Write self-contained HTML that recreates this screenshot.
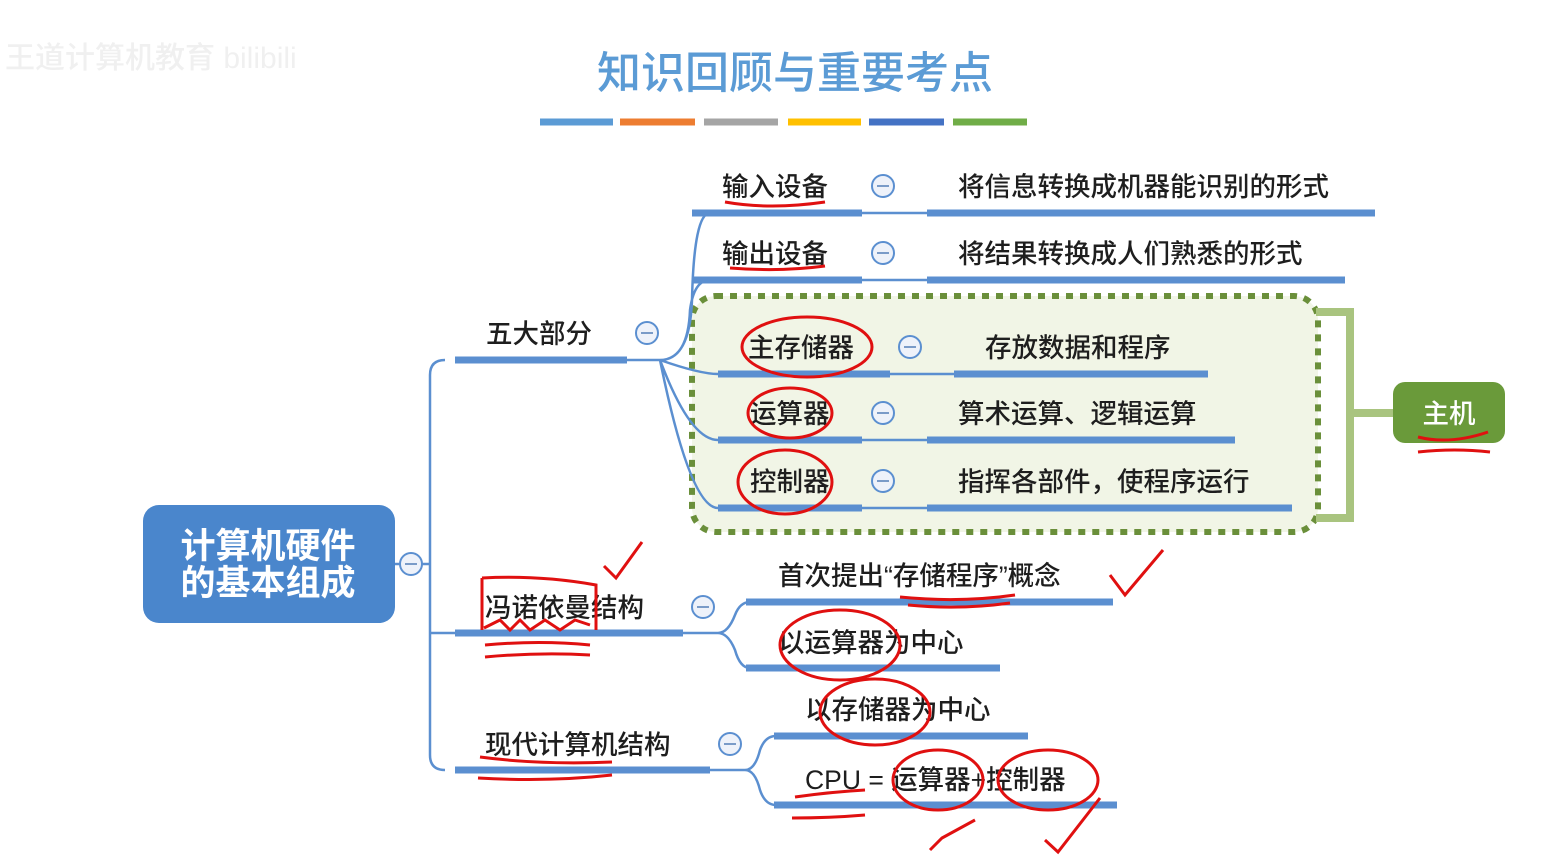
<!DOCTYPE html>
<html><head><meta charset="utf-8"><style>
body{margin:0;background:#fff;}
svg{display:block;}
text{font-family:"Liberation Sans","Noto Sans CJK SC",sans-serif;fill:#1e1e1e;font-size:26.5px;font-weight:500;}
</style></head><body>
<svg width="1545" height="856" viewBox="0 0 1545 856">
<text x="5" y="68" style="fill:#f0f0f0;font-size:30px">王道计算机教育 bilibili</text>
<text x="795" y="88" text-anchor="middle" style="fill:#5b9bd5;font-size:44px">知识回顾与重要考点</text>
<g stroke-width="7">
<line x1="540" y1="122" x2="613" y2="122" stroke="#5b9bd5"/>
<line x1="620" y1="122" x2="695" y2="122" stroke="#ed7d31"/>
<line x1="704" y1="122" x2="778" y2="122" stroke="#a5a5a5"/>
<line x1="788" y1="122" x2="861" y2="122" stroke="#ffc000"/>
<line x1="869" y1="122" x2="944" y2="122" stroke="#4472c4"/>
<line x1="953" y1="122" x2="1027" y2="122" stroke="#70ad47"/>
</g>
<rect x="692" y="296" width="626" height="236" rx="24" fill="#f1f5e6" stroke="#6a8f3a" stroke-width="6" stroke-dasharray="7,7"/>
<path d="M1316 312 H1350 V518 H1316 M1350 413 H1395" fill="none" stroke="#a9c47f" stroke-width="8"/>
<rect x="1393" y="382" width="112" height="61" rx="12" fill="#6a9a3a"/>
<text x="1449" y="423" text-anchor="middle" style="fill:#fff">主机</text>
<rect x="143" y="505" width="252" height="118" rx="16" fill="#4a86cc"/>
<text x="268" y="558" text-anchor="middle" style="fill:#fff;font-size:35px;font-weight:bold">计算机硬件</text>
<text x="268" y="595" text-anchor="middle" style="fill:#fff;font-size:35px;font-weight:bold">的基本组成</text>
<g fill="none" stroke="#5b8fd0" stroke-width="2.5">
<path d="M395 564 H430 M445 360 Q430 360 430 375 V755 Q430 770 445 770 M430 633 H455"/>
<path d="M627 360 H660 M660 360 Q690 360 692 300 Q694 213 710 213 M660 360 Q688 360 690 310 Q694 280 710 280 M660 360 Q700 374 718 374 M660 360 Q690 440 718 440 M660 360 Q690 508 718 508"/>
<path d="M862 213 H927 M862 280 H927 M890 374 H954 M862 440 H927 M862 508 H927"/>
<path d="M683 633 H718 Q728 633 735 615 Q740 602 750 602 M718 633 Q728 633 735 650 Q740 668 750 668"/>
<path d="M710 770 H745 Q755 770 760 750 Q765 736 776 736 M745 770 Q755 770 760 790 Q765 805 776 805"/>
</g>
<g stroke="#5b8fd0" stroke-width="7">
<line x1="455" y1="360" x2="627" y2="360"/><line x1="455" y1="633" x2="683" y2="633"/><line x1="455" y1="770" x2="710" y2="770"/>
<line x1="692" y1="213" x2="862" y2="213"/><line x1="927" y1="213" x2="1375" y2="213"/>
<line x1="692" y1="280" x2="862" y2="280"/><line x1="927" y1="280" x2="1345" y2="280"/>
<line x1="718" y1="374" x2="890" y2="374"/><line x1="954" y1="374" x2="1208" y2="374"/>
<line x1="718" y1="440" x2="862" y2="440"/><line x1="927" y1="440" x2="1235" y2="440"/>
<line x1="718" y1="508" x2="862" y2="508"/><line x1="927" y1="508" x2="1292" y2="508"/>
<line x1="746" y1="602" x2="1113" y2="602"/><line x1="746" y1="668" x2="1000" y2="668"/>
<line x1="774" y1="736" x2="1028" y2="736"/><line x1="774" y1="805" x2="1117" y2="805"/>
</g>
<g fill="#eef2fa" stroke="#5b8fd0" stroke-width="2">
<circle cx="411" cy="564" r="11"/><circle cx="647" cy="333" r="11"/><circle cx="883" cy="186" r="11"/><circle cx="883" cy="253" r="11"/>
<circle cx="910" cy="347" r="11"/><circle cx="883" cy="413" r="11"/><circle cx="883" cy="481" r="11"/>
<circle cx="703" cy="607" r="11"/><circle cx="730" cy="744" r="11"/>
</g>
<g stroke="#7a9bc8" stroke-width="2"><line x1="877" y1="186" x2="889" y2="186"/><line x1="877" y1="253" x2="889" y2="253"/><line x1="904" y1="347" x2="916" y2="347"/><line x1="877" y1="413" x2="889" y2="413"/><line x1="877" y1="481" x2="889" y2="481"/><line x1="641" y1="333" x2="653" y2="333"/><line x1="405" y1="564" x2="417" y2="564"/><line x1="697" y1="607" x2="709" y2="607"/><line x1="724" y1="744" x2="736" y2="744"/></g>
<text x="486" y="343">五大部分</text>
<text x="722" y="196">输入设备</text><text x="958" y="196">将信息转换成机器能识别的形式</text>
<text x="722" y="263">输出设备</text><text x="958" y="263">将结果转换成人们熟悉的形式</text>
<text x="748" y="357">主存储器</text><text x="985" y="357">存放数据和程序</text>
<text x="750" y="423">运算器</text><text x="958" y="423">算术运算、逻辑运算</text>
<text x="750" y="491">控制器</text><text x="958" y="491">指挥各部件，使程序运行</text>
<text x="485" y="617">冯诺依曼结构</text>
<text x="778" y="585">首次提出“存储程序”概念</text>
<text x="778" y="652">以运算器为中心</text>
<text x="485" y="754">现代计算机结构</text>
<text x="805" y="719">以存储器为中心</text>
<text x="805" y="789">CPU = 运算器+控制器</text>
<g fill="none" stroke="#e01010" stroke-width="3">
<path d="M725 202 Q770 210 825 202"/><path d="M730 268 Q780 272 825 266"/>
<ellipse cx="807" cy="347" rx="65" ry="30"/><ellipse cx="790" cy="413" rx="42" ry="25"/><ellipse cx="785" cy="482" rx="47" ry="32"/>
<path d="M1418 437 Q1450 445 1488 432"/><path d="M1418 452 Q1455 448 1490 452"/>
<path d="M482 578 V630 M482 578 Q540 575 596 585 V630"/><path d="M484 628 L500 620 L510 630 L520 620 L530 630 L545 620 L560 630 L575 620 L590 625"/>
<path d="M485 645 Q540 640 590 645"/><path d="M485 657 Q540 652 590 655"/>
<path d="M604 566 L616 578 L642 542"/>
<path d="M900 597 Q960 603 1015 595"/><path d="M908 605 Q960 610 1010 603"/>
<path d="M1110 575 L1125 595 L1163 550"/>
<ellipse cx="840" cy="645" rx="60" ry="35"/><ellipse cx="875" cy="712" rx="55" ry="33"/>
<path d="M480 757 Q540 765 612 762"/><path d="M478 778 Q550 782 612 775"/>
<path d="M795 797 Q830 792 865 790"/><path d="M792 818 Q830 818 865 815"/>
<ellipse cx="938" cy="780" rx="45" ry="30"/><ellipse cx="1048" cy="780" rx="50" ry="30"/>
<path d="M930 850 L942 838 L975 820"/><path d="M1045 840 L1058 852 L1100 798"/>
</g>
</svg>
</body></html>
